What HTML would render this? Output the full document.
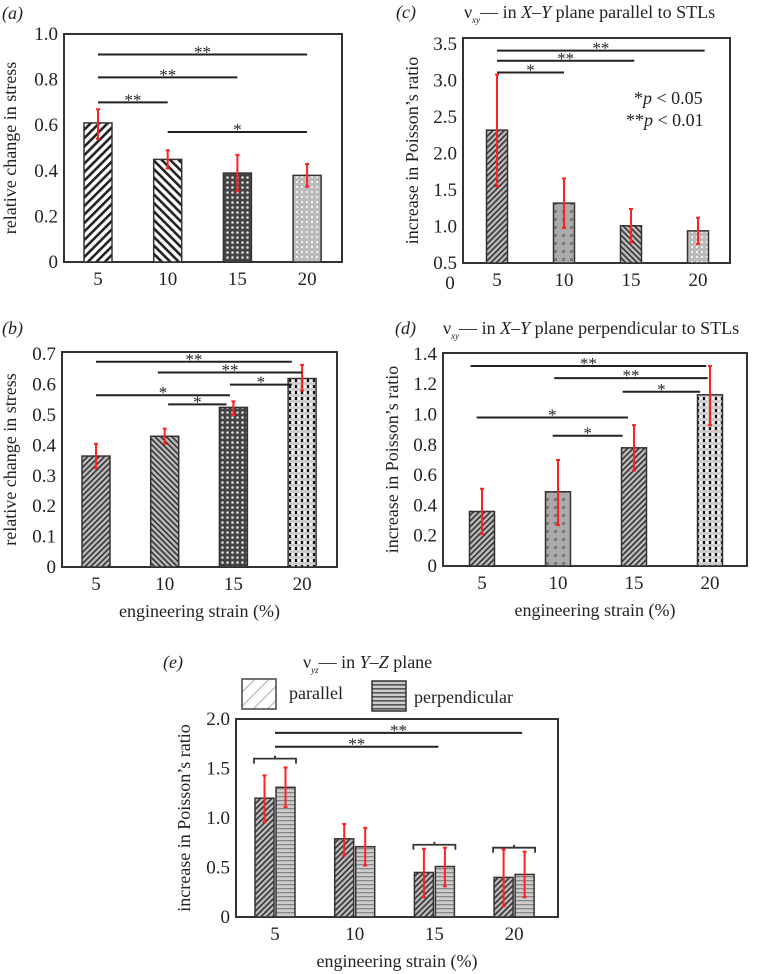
<!DOCTYPE html>
<html><head><meta charset="utf-8"><style>
html,body{margin:0;padding:0;background:#fff}
svg{display:block}
text{font-family:"Liberation Serif",serif;fill:#222}
</style></head><body>
<svg id="fig" width="761" height="974" viewBox="0 0 761 974" xmlns="http://www.w3.org/2000/svg">
<defs>
<pattern id="pFwd" width="6" height="6" patternUnits="userSpaceOnUse" patternTransform="rotate(45)"><rect width="6" height="6" fill="#fff"/><rect width="2.6" height="6" fill="#222"/></pattern>
<pattern id="pBack" width="6" height="6" patternUnits="userSpaceOnUse" patternTransform="rotate(-45)"><rect width="6" height="6" fill="#fff"/><rect width="2.6" height="6" fill="#222"/></pattern>
<pattern id="pFine" width="4" height="4" patternUnits="userSpaceOnUse" patternTransform="rotate(45)"><rect width="4" height="4" fill="#bbb"/><rect width="1.6" height="4" fill="#333"/></pattern>
<pattern id="pFineB" width="4" height="4" patternUnits="userSpaceOnUse" patternTransform="rotate(-45)"><rect width="4" height="4" fill="#bbb"/><rect width="1.6" height="4" fill="#333"/></pattern>
<pattern id="pCheck" width="5" height="5" patternUnits="userSpaceOnUse"><rect width="5" height="5" fill="#444"/><circle cx="2.5" cy="2.5" r="1.3" fill="#ddd"/></pattern>
<pattern id="pLight" width="5" height="5" patternUnits="userSpaceOnUse"><rect width="5" height="5" fill="#bbb"/><rect x="1" y="1" width="2" height="2" fill="#eee"/></pattern>
<pattern id="pGrid" width="6" height="6" patternUnits="userSpaceOnUse"><rect width="6" height="6" fill="#ccc"/><rect x="1" y="1" width="2" height="3" fill="#111"/><rect x="4" y="1" width="1.5" height="3" fill="#fff"/></pattern>
<pattern id="pDotGrey" width="8" height="8" patternUnits="userSpaceOnUse"><rect width="8" height="8" fill="#aaa"/><rect x="2" y="2" width="3" height="3" fill="#777"/></pattern>
<pattern id="pHoriz" width="4" height="4" patternUnits="userSpaceOnUse"><rect width="4" height="4" fill="#ccc"/><rect width="4" height="1.3" fill="#888"/></pattern>
<pattern id="pLeg" width="10" height="10" patternUnits="userSpaceOnUse" patternTransform="rotate(45)"><rect width="10" height="10" fill="#fff"/><rect width="1" height="10" fill="#aaa"/></pattern>
<pattern id="pLegH" width="4" height="4" patternUnits="userSpaceOnUse"><rect width="4" height="4" fill="#ccc"/><rect width="4" height="1.6" fill="#555"/></pattern>
</defs>
</svg>
<script>
// ---- panel (a)
const catsA = ["5","10","15","20"];
const valsA = [0.61, 0.45, 0.39, 0.38];
const hiA = [0.67, 0.49, 0.47, 0.43];
const loA = [0.54, 0.41, 0.31, 0.33];
const ticksA = ["0","0.2","0.4","0.6","0.8","1.0"];
const tickValsA = [0, 0.2, 0.4, 0.6, 0.8, 1.0];
const sigA = [[0,3,0.91,"**"],[0,2,0.81,"**"],[0,1,0.70,"**"],[1,3,0.57,"*"]];
// ---- panel (b)
const catsB = ["5","10","15","20"];
const valsB = [0.365, 0.43, 0.525, 0.62];
const hiB = [0.405, 0.455, 0.545, 0.665];
const loB = [0.325, 0.405, 0.50, 0.58];
const ticksB = ["0","0.1","0.2","0.3","0.4","0.5","0.6","0.7"];
const tickValsB = [0,0.1,0.2,0.3,0.4,0.5,0.6,0.7];
const sigB = [[0,2.85,0.675,"**"],[0.9,3,0.64,"**"],[1.95,2.85,0.60,"*"],[0,1.95,0.565,"*"],[1.05,1.9,0.535,"*"]];
// ---- panel (c)
const catsC = ["5","10","15","20"];
const valsC = [2.32, 1.32, 1.01, 0.94];
const hiC = [3.08, 1.66, 1.24, 1.12];
const loC = [1.55, 0.98, 0.78, 0.76];
const ticksC = ["0.5","1.0","1.5","2.0","2.5","3.0","3.5"];
const tickValsC = [0.5,1.0,1.5,2.0,2.5,3.0,3.5];
const sigC = [[0,3.1,3.41,"**"],[0,2.05,3.27,"**"],[0,1,3.11,"*"]];
// ---- panel (d)
const catsD = ["5","10","15","20"];
const valsD = [0.36, 0.49, 0.78, 1.13];
const hiD = [0.51, 0.70, 0.93, 1.32];
const loD = [0.21, 0.27, 0.63, 0.93];
const ticksD = ["0","0.2","0.4","0.6","0.8","1.0","1.2","1.4"];
const tickValsD = [0,0.2,0.4,0.6,0.8,1.0,1.2,1.4];
const sigD = [[-0.15,2.95,1.32,"**"],[0.95,2.97,1.24,"**"],[1.85,2.87,1.15,"*"],[-0.07,1.92,0.98,"*"],[0.93,1.85,0.86,"*"]];
// ---- panel (e)
const catsE = ["5","10","15","20"];
const valsEpar = [1.20, 0.79, 0.45, 0.40];
const hiEpar = [1.43, 0.94, 0.69, 0.68];
const loEpar = [0.96, 0.62, 0.20, 0.11];
const valsEperp = [1.31, 0.71, 0.51, 0.43];
const hiEperp = [1.51, 0.90, 0.70, 0.66];
const loEperp = [1.11, 0.52, 0.31, 0.20];
const ticksE = ["0","0.5","1.0","1.5","2.0"];
const tickValsE = [0,0.5,1.0,1.5,2.0];
const sigE = [[0,3.1,1.86,"**"],[0,2.05,1.72,"**"]];
const bracketE = [[0,1.60],[2,0.73],[3,0.70]];

const NS="http://www.w3.org/2000/svg";
const svg=document.getElementById('fig');
function mk(tag,attrs,parent){const e=document.createElementNS(NS,tag);for(const k in attrs)e.setAttribute(k,attrs[k]);(parent||svg).appendChild(e);return e;}
function txt(s,x,y,size,anchor,parent){const t=mk('text',{x:x,y:y,'font-size':size,'text-anchor':anchor||'middle'},parent);t.textContent=s;return t;}

function panel(cfg){
  const g=mk('g',{});
  
  
  const ys=v=>cfg.y0-(v-cfg.vmin)*cfg.ppu;
  const xs=i=>cfg.x0+i*cfg.step;
  const fr=mk('rect',{x:cfg.bx1,y:cfg.by1,width:cfg.bx2-cfg.bx1,height:cfg.by2-cfg.by1,fill:'none',stroke:'#333','stroke-width':2},g);
  
  
  cfg.tickVals.forEach((v,i)=>{
    const t=txt(cfg.ticks[i],cfg.bx1-6,ys(v)+6,19,'end',g);
    
    
  });
  cfg.cats.forEach((c,i)=>{
    const t=txt(c,xs(i),cfg.by2+23,19,'middle',g);
    
    
  });
  cfg.series.forEach(s=>{
    s.vals.forEach((v,i)=>{
      const cx=xs(i)+s.off;
      const r=mk('rect',{x:cx-cfg.bw/2,y:ys(v),width:cfg.bw,height:ys(cfg.vmin)-ys(v),fill:'url(#'+s.fills[i]+')',stroke:'#333','stroke-width':1.5},g);
      
      
      const e=mk('path',{d:`M${cx} ${ys(s.hi[i])}V${ys(s.lo[i])}M${cx-2} ${ys(s.hi[i])}H${cx+2}M${cx-2} ${ys(s.lo[i])}H${cx+2}`,stroke:'#f22','stroke-width':2,fill:'none'},g);
      
      
    });
  });
  cfg.sig.forEach(s=>{
    const y=ys(s[2]);
    const l=mk('line',{x1:xs(s[0]),x2:xs(s[1]),y1:y,y2:y,stroke:'#222','stroke-width':2},g);
    
    
    const t=txt(s[3],(xs(s[0])+xs(s[1]))/2,y+3,17,'middle',g);
    
    
  });
  if(cfg.ylabel){
    const t=txt(cfg.ylabel,0,0,18,'middle',g);
    t.setAttribute('transform',`translate(${cfg.ylx},${(cfg.by1+cfg.by2)/2}) rotate(-90)`);
    
    
  }
  if(cfg.xlabel){
    const t=txt(cfg.xlabel,(cfg.bx1+cfg.bx2)/2,cfg.by2+50,18,'middle',g);
    
    
  }
  return {g,ys,xs};
}

function label(s,x,y){
  const t=mk('text',{x:x,y:y,'font-size':18,'font-style':'italic'});
  t.textContent=s;
  
  
}
function title(x,y,sub,rest){
  const t=mk('text',{x:x,y:y,'font-size':18});
  
  
  t.innerHTML=`ν<tspan font-size="9" font-style="italic" dy="5">${sub}</tspan><tspan dy="-5">— ${rest}</tspan>`;
}

// (a)
label("(a)",2,19);
panel({name:'panel-a',cats:catsA,ticks:ticksA,tickVals:tickValsA,vmin:0,y0:262,ppu:228,x0:98,step:69.7,bw:28,
  bx1:64,bx2:342,by1:34,by2:262,ylabel:'relative change in stress',ylx:16,
  series:[{key:'a',off:0,vals:valsA,hi:hiA,lo:loA,fills:['pFwd','pBack','pCheck','pLight']}],sig:sigA});
// (b)
label("(b)",2,334);
panel({name:'panel-b',cats:catsB,ticks:ticksB,tickVals:tickValsB,vmin:0,y0:567,ppu:304,x0:96,step:68.7,bw:28,
  bx1:62,bx2:337,by1:352,by2:567,ylabel:'relative change in stress',ylx:16,xlabel:'engineering strain (%)',
  series:[{key:'b',off:0,vals:valsB,hi:hiB,lo:loB,fills:['pFine','pFineB','pCheck','pGrid']}],sig:sigB});
// (c)
label("(c)",396,18);
title(464,18,'xy','in <tspan font-style="italic">X–Y</tspan> plane parallel to STLs');
panel({name:'panel-c',cats:catsC,ticks:ticksC,tickVals:tickValsC,vmin:0.5,y0:263,ppu:73,x0:497,step:67,bw:21,
  bx1:463,bx2:730,by1:38,by2:263,ylabel:'increase in Poisson’s ratio',ylx:418,
  series:[{key:'c',off:0,vals:valsC,hi:hiC,lo:loC,fills:['pFine','pDotGrey','pFineB','pLight']}],sig:sigC});
{const t=txt("0",450,289,19,'middle');}
{const t=mk('text',{x:634,y:104,'font-size':18});t.innerHTML='*<tspan font-style="italic">p</tspan> &lt; 0.05';}
{const t=mk('text',{x:626,y:126,'font-size':18});t.innerHTML='**<tspan font-style="italic">p</tspan> &lt; 0.01';}
// (d)
label("(d)",395,334);
title(443,334,'xy','in <tspan font-style="italic">X–Y</tspan> plane perpendicular to STLs');
panel({name:'panel-d',cats:catsD,ticks:ticksD,tickVals:tickValsD,vmin:0,y0:566,ppu:151.5,x0:482,step:76,bw:25,
  bx1:443,bx2:747,by1:353,by2:566,ylabel:'increase in Poisson’s ratio',ylx:398,xlabel:'engineering strain (%)',
  series:[{key:'d',off:0,vals:valsD,hi:hiD,lo:loD,fills:['pFine','pDotGrey','pFine','pGrid']}],sig:sigD});
// (e)
label("(e)",163,668);
title(303,668,'yz','in <tspan font-style="italic">Y–Z</tspan> plane');
const pe=panel({name:'panel-e',cats:catsE,ticks:ticksE,tickVals:tickValsE,vmin:0,y0:917,ppu:99,x0:275,step:79.7,bw:19,
  bx1:236,bx2:558,by1:719,by2:917,ylabel:'increase in Poisson’s ratio',ylx:190,xlabel:'engineering strain (%)',
  series:[{key:'parallel',off:-10.5,vals:valsEpar,hi:hiEpar,lo:loEpar,fills:['pFine','pFine','pFine','pFine']},
          {key:'perpendicular',off:10.5,vals:valsEperp,hi:hiEperp,lo:loEperp,fills:['pHoriz','pHoriz','pHoriz','pHoriz']}],sig:sigE});
bracketE.forEach(b=>{
  const cx=pe.xs(b[0]),y=pe.ys(b[1]);
  const p=mk('path',{d:`M${cx-21} ${y+5}V${y}H${cx+21}V${y+5}M${cx} ${y}V${y-3}`,stroke:'#333','stroke-width':1.8,fill:'none'});
  
  
});
{const r=mk('rect',{x:242,y:679,width:34,height:30,fill:'url(#pLeg)',stroke:'#444','stroke-width':1.5});}
{const t=txt("parallel",289,699,18,'start');}
{const r=mk('rect',{x:372,y:681,width:34,height:30,fill:'url(#pLegH)',stroke:'#333','stroke-width':1.5});}
{const t=txt("perpendicular",414,703,18,'start');}
</script>
</body></html>
